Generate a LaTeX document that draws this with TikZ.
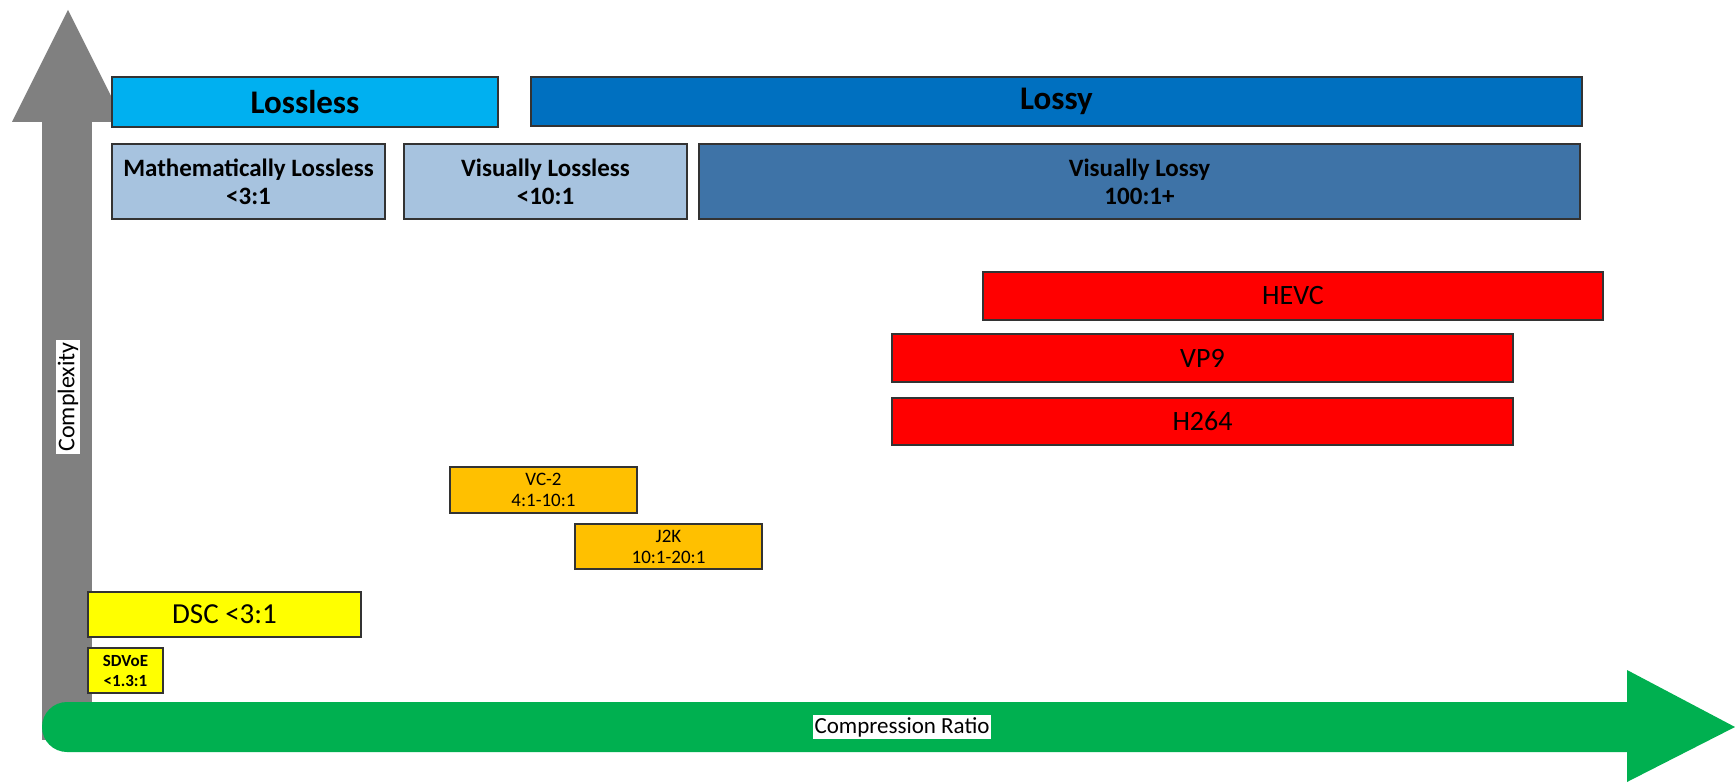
\documentclass[tikz,border=0pt]{standalone}
\usepackage{fontspec}
\setmainfont{Carlito}
\definecolor{axisgray}{HTML}{808080}
\definecolor{axisgreen}{HTML}{00B050}
\definecolor{losslesscyan}{HTML}{00B0F0}
\definecolor{lossyblue}{HTML}{0070C0}
\definecolor{paleblue}{HTML}{A7C3DF}
\definecolor{steelblue}{HTML}{3E73A7}
\definecolor{codecred}{HTML}{FF0000}
\definecolor{codecorange}{HTML}{FFC000}
\definecolor{codecyellow}{HTML}{FFFF00}
\begin{document}
\begin{tikzpicture}[x=1pt,y=-1pt,
  box/.style={draw=black!80, line width=1.5pt, inner sep=0pt, align=center},
  fsize/.style 2 args={font=\fontsize{#1}{#2}\selectfont},
  bfsize/.style 2 args={font=\fontsize{#1}{#2}\selectfont\bfseries}]
  \useasboundingbox (0,0) rectangle (1735,783);
  % complexity axis
  \fill[axisgray] (42,122) rectangle (92,740);
  \fill[axisgray] (12,122) -- (68,10) -- (124,122) -- cycle;
  % compression ratio axis
  \fill[axisgreen, rounded corners=25pt] (42,702) rectangle (1660,752);
  \fill[axisgreen] (1627,670) -- (1735,727) -- (1627,782) -- cycle;
  \node[fill=white, rotate=90, inner sep=2pt, fsize={24}{28}] (complexity) at (68,397) {Complexity};
  \node[fill=white, inner sep=2pt, fsize={23}{27}] (ratio) at (902,727) {Compression Ratio};
  % lossless / lossy
  \node[box, fill=losslesscyan, minimum width=386, minimum height=50, bfsize={33}{36}] (lossless) at (305,102) {Lossless};
  \node[box, fill=lossyblue, minimum width=1051, minimum height=49, bfsize={33}{36}] (lossy) at (1056.5,101.5) {Lossy};
  % quality classes
  \node[box, fill=paleblue, minimum width=273, minimum height=75, bfsize={25}{28}] (mathll) at (248.5,181.5) {Mathematically Lossless\\<3:1};
  \node[box, fill=paleblue, minimum width=283, minimum height=75, bfsize={25}{28}] (visll) at (545.5,181.5) {Visually Lossless\\<10:1};
  \node[box, fill=steelblue, minimum width=881, minimum height=75, bfsize={25}{28}] (vislossy) at (1139.5,181.5) {Visually Lossy\\100:1+};
  % codecs
  \node[box, fill=codecred, minimum width=620, minimum height=48, fsize={28}{32}] (hevc) at (1293,296) {HEVC};
  \node[box, fill=codecred, minimum width=621, minimum height=48, fsize={28}{32}] (vp9) at (1202.5,358) {VP9};
  \node[box, fill=codecred, minimum width=621, minimum height=47, fsize={28}{32}] (h264) at (1202.5,421.5) {H264};
  \node[box, fill=codecorange, minimum width=187, minimum height=46, fsize={19}{21}] (vctwo) at (543.5,490) {VC-2\\4:1-10:1};
  \node[box, fill=codecorange, minimum width=187, minimum height=45, fsize={19}{21}] (jtwok) at (668.5,546.5) {J2K\\10:1-20:1};
  \node[box, fill=codecyellow, minimum width=273, minimum height=45, fsize={29}{32}] (dsc) at (224.5,614.5) {DSC <3:1};
  \node[box, fill=codecyellow, minimum width=75, minimum height=45, bfsize={17}{20}] (sdvoe) at (125.5,670.5) {SDVoE\\<1.3:1};
\end{tikzpicture}
\end{document}
